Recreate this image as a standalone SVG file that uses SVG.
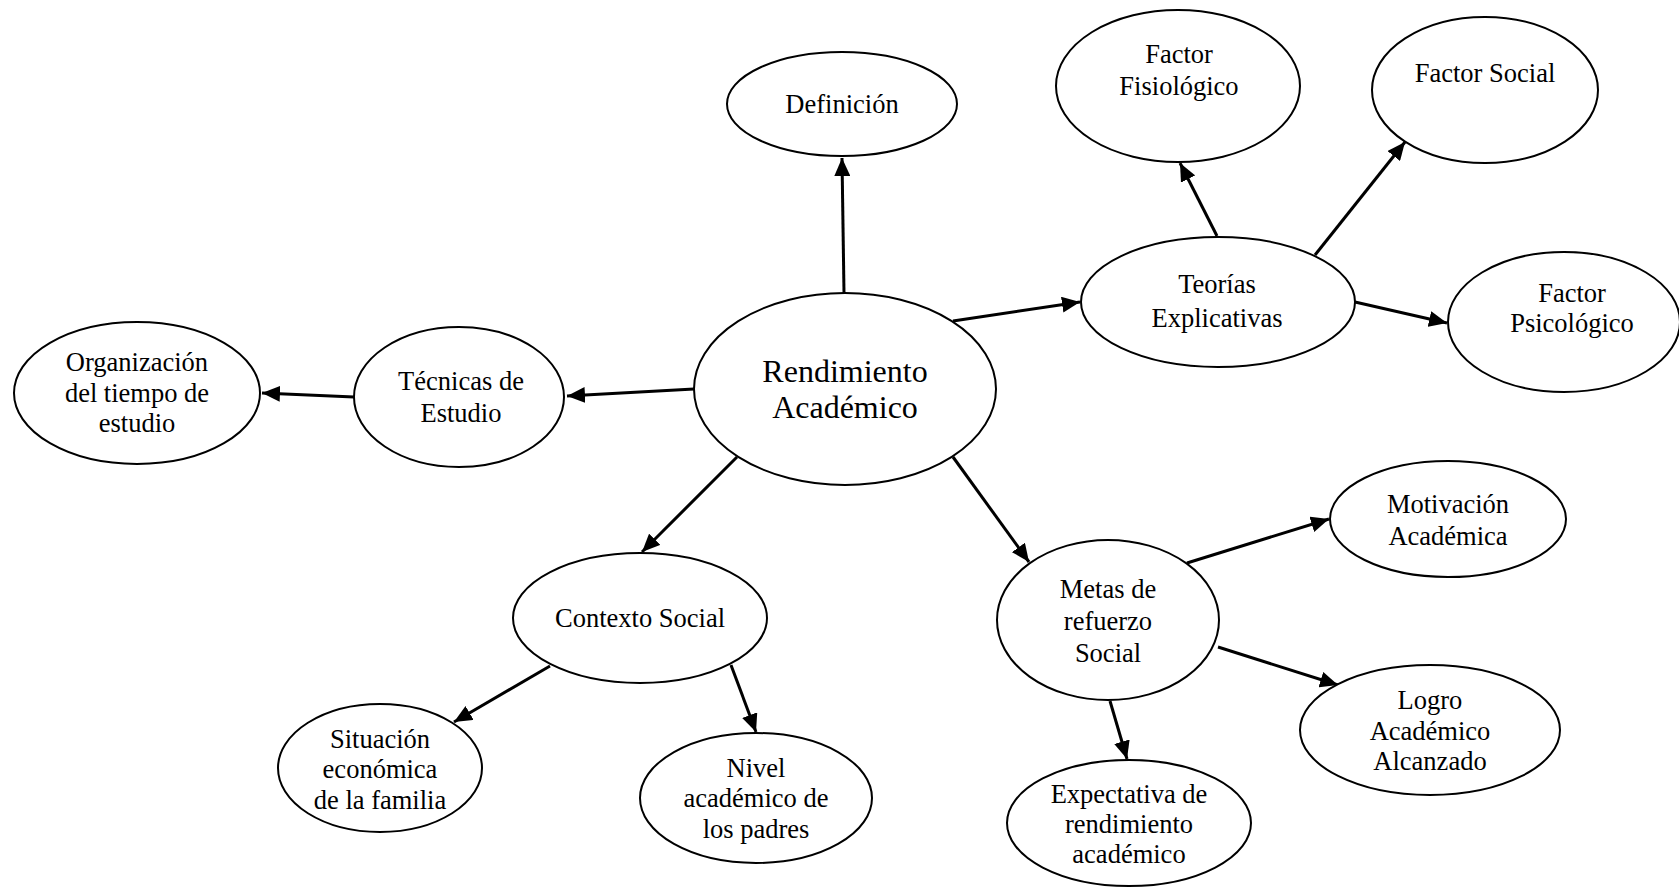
<svg xmlns="http://www.w3.org/2000/svg" width="1679" height="888" viewBox="0 0 1679 888">
<style>
.n ellipse{fill:#fff;stroke:#000;stroke-width:2}
.n text{font-family:"Liberation Serif","Times New Roman",serif;font-size:26.5px;fill:#000;text-anchor:middle}
.n text.big{font-size:32px}
.c line{stroke:#000;stroke-width:3;marker-end:url(#ah)}
</style>
<defs>
<marker id="ah" markerUnits="userSpaceOnUse" markerWidth="20" markerHeight="16" refX="18" refY="8" orient="auto">
<path d="M0,0 L18,8 L0,16 z" fill="#000"/>
</marker>
</defs>
<rect width="1679" height="888" fill="#fff"/>
<g class="c" id="connectors">
<line x1="844" y1="293" x2="842" y2="158"/>
<line x1="953" y1="321" x2="1080" y2="302"/>
<line x1="694" y1="389" x2="567" y2="396"/>
<line x1="354" y1="397" x2="262" y2="393"/>
<line x1="1217" y1="236" x2="1180" y2="163"/>
<line x1="1315" y1="255" x2="1405" y2="142"/>
<line x1="1355" y1="302" x2="1447" y2="323"/>
<line x1="737" y1="457" x2="642" y2="552"/>
<line x1="953" y1="457" x2="1029" y2="562"/>
<line x1="550" y1="666" x2="454" y2="722"/>
<line x1="731" y1="665" x2="756" y2="732"/>
<line x1="1187" y1="563" x2="1329" y2="519"/>
<line x1="1218" y1="647" x2="1338" y2="685"/>
<line x1="1110" y1="701" x2="1127" y2="759"/>
</g>
<g class="n" id="rendimiento"><ellipse cx="845" cy="389" rx="151" ry="96"/><text class="big" x="845" y="382">Rendimiento</text><text class="big" x="845" y="418">Académico</text></g>
<g class="n" id="definicion"><ellipse cx="842" cy="104" rx="115" ry="52"/><text x="842" y="113">Definición</text></g>
<g class="n" id="teorias"><ellipse cx="1218" cy="302" rx="137" ry="65"/><text x="1217" y="293">Teorías</text><text x="1217" y="327">Explicativas</text></g>
<g class="n" id="fisiologico"><ellipse cx="1178" cy="86" rx="122" ry="76"/><text x="1179" y="63">Factor</text><text x="1179" y="95">Fisiológico</text></g>
<g class="n" id="social"><ellipse cx="1485" cy="90" rx="113" ry="73"/><text x="1485" y="82">Factor Social</text></g>
<g class="n" id="psicologico"><ellipse cx="1564" cy="322" rx="116" ry="70"/><text x="1572" y="302">Factor</text><text x="1572" y="332">Psicológico</text></g>
<g class="n" id="tecnicas"><ellipse cx="459" cy="397" rx="105" ry="70"/><text x="461" y="390">Técnicas de</text><text x="461" y="422">Estudio</text></g>
<g class="n" id="organizacion"><ellipse cx="137" cy="393" rx="123" ry="71"/><text x="137" y="371">Organización</text><text x="137" y="402">del tiempo de</text><text x="137" y="432">estudio</text></g>
<g class="n" id="contexto"><ellipse cx="640" cy="618" rx="127" ry="65"/><text x="640" y="627">Contexto Social</text></g>
<g class="n" id="situacion"><ellipse cx="380" cy="768" rx="102" ry="64"/><text x="380" y="748">Situación</text><text x="380" y="778">económica</text><text x="380" y="809">de la familia</text></g>
<g class="n" id="nivel"><ellipse cx="756" cy="798" rx="116" ry="65"/><text x="756" y="777">Nivel</text><text x="756" y="807">académico de</text><text x="756" y="838">los padres</text></g>
<g class="n" id="metas"><ellipse cx="1108" cy="620" rx="111" ry="80"/><text x="1108" y="598">Metas de</text><text x="1108" y="630">refuerzo</text><text x="1108" y="662">Social</text></g>
<g class="n" id="motivacion"><ellipse cx="1448" cy="519" rx="118" ry="58"/><text x="1448" y="513">Motivación</text><text x="1448" y="545">Académica</text></g>
<g class="n" id="logro"><ellipse cx="1430" cy="730" rx="130" ry="65"/><text x="1430" y="709">Logro</text><text x="1430" y="740">Académico</text><text x="1430" y="770">Alcanzado</text></g>
<g class="n" id="expectativa"><ellipse cx="1129" cy="823" rx="122" ry="63"/><text x="1129" y="803">Expectativa de</text><text x="1129" y="833">rendimiento</text><text x="1129" y="863">académico</text></g>
</svg>
